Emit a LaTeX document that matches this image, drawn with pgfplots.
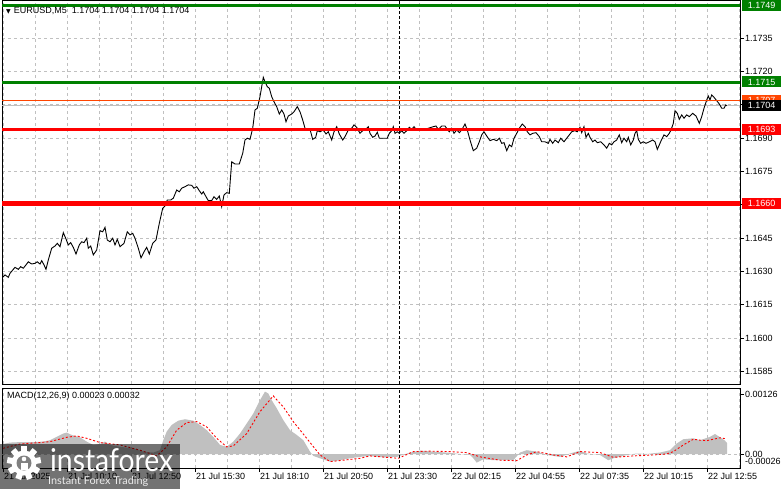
\documentclass[border=0pt]{standalone}
\usepackage{fontspec}
\setmainfont{Liberation Sans}
\newfontfamily\dejavu{DejaVu Sans}
\newfontfamily\logofont{Lato}
\usepackage{pgfplots}
\pgfplotsset{compat=1.18}
\definecolor{gridc}{RGB}{192,192,192}
\definecolor{mtgreen}{RGB}{0,128,0}
\definecolor{mtorange}{RGB}{255,69,0}
\definecolor{silverc}{RGB}{192,192,192}
\newcommand{\lbl}{\fontsize{9}{10}\selectfont}

\begin{document}
\begin{tikzpicture}
\fill[white] (0pt,0pt) rectangle (781pt,-489pt);
\path[use as bounding box] (0pt,0pt) rectangle (781pt,-489pt);

% ---------------- main price panel ----------------
\begin{axis}[
  at={(2pt,-384pt)}, anchor=south west,
  scale only axis, width=738pt, height=384pt,
  xmin=2, xmax=740, ymin=1.15793, ymax=1.17521,
  axis line style={black, line width=0.9pt},
  xtick={3,35,...,739}, xticklabels={}, x tick style={draw=none},
  xmajorgrids, ymajorgrids,
  grid style={gridc, line width=0.8pt, dash pattern=on 3pt off 3pt},
  ytick={1.1585,1.1600,1.1615,1.1630,1.1645,1.1660,1.1675,1.1690,1.1705,1.1720,1.1735},
  yticklabels={1.1585,1.1600,1.1615,1.1630,1.1645,{},1.1675,1.1690,{},1.1720,1.1735},
  ytick pos=right, yticklabel pos=right, tick align=outside, major tick length=4pt,
  y tick style={black, line width=0.8pt},
  yticklabel style={font=\lbl, anchor=west, inner sep=1pt},
  scaled y ticks=false,
]
% bid line
\addplot[silverc, line width=0.9pt] coordinates {(2,1.17045) (740,1.17045)};
% day separator
\addplot[black, line width=0.8pt, dash pattern=on 3pt off 2pt] coordinates {(399,1.15793) (399,1.17521)};
% price
\addplot[black, line width=0.9pt] coordinates {
(2.7,1.16273)(5,1.16284)(8.3,1.16273)(10,1.16291)(15,1.16318)(18.3,1.16309)(20.7,1.16321)(23.3,1.16314)(26,1.16329)(28.3,1.16343)(31.7,1.16333)(35,1.16336)(37.3,1.16343)(40,1.16333)(41.7,1.16348)(44,1.16329)(46,1.16309)(48.3,1.16351)(51.7,1.16404)(55,1.16414)(57.3,1.16426)(60,1.16411)(63.3,1.16474)(65.7,1.16449)(68.3,1.16419)(70.7,1.16429)(73.3,1.16408)(76,1.16378)(79.3,1.16419)(81.7,1.16433)(84,1.16429)(86.7,1.16449)(88.3,1.16404)(90.7,1.16414)(93.3,1.16374)(96.7,1.16396)(100,1.16483)(102.7,1.16478)(105,1.16498)(107.3,1.16441)(110,1.16433)(112.7,1.16449)(115,1.16419)(117.3,1.16444)(120,1.16411)(124,1.16426)(127.3,1.16478)(130,1.16464)(132.7,1.16471)(135,1.16449)(138.3,1.16404)(141,1.16361)(144,1.16388)(146.7,1.16408)(149.3,1.16378)(152.7,1.16426)(156,1.16441)(159.3,1.16516)(162.7,1.16584)(165,1.16594)(167.3,1.16621)(170.7,1.16621)(173.3,1.16629)(176.7,1.16666)(179.3,1.16658)(181.7,1.16674)(185,1.16681)(188.3,1.16689)(191.7,1.16687)(194,1.16674)(196.7,1.16681)(199.3,1.16663)(201.7,1.16648)(203.3,1.16658)(206,1.16636)(208.3,1.16618)(211.7,1.16618)(214,1.16636)(216.7,1.16624)(219.3,1.16639)(221.7,1.16591)(224,1.16644)(226.7,1.16654)(229.3,1.16651)(231.7,1.16793)(235,1.16783)(239.3,1.16783)(242.7,1.16831)(245,1.16891)(247.3,1.16899)(250,1.16894)(252.7,1.16944)(255,1.17026)(257.3,1.17034)(260,1.17086)(261.7,1.17131)(263.3,1.17173)(265,1.17153)(267.3,1.17131)(269.3,1.17124)(271.7,1.17086)(274,1.17063)(276.7,1.17041)(279.3,1.17008)(281.7,1.17026)(284,1.17008)(286,1.16973)(288.3,1.16999)(291.7,1.17008)(294,1.17018)(297.3,1.17041)(300,1.17018)(302.7,1.16981)(305,1.16944)(307.3,1.16936)(310,1.16939)(312.7,1.16894)(315.7,1.16903)(317.3,1.16933)(320,1.16928)(323.3,1.16936)(326,1.16918)(328.3,1.16928)(331.7,1.16891)(334,1.16928)(336.7,1.16951)(339.3,1.16918)(342.7,1.16891)(345,1.16906)(348.3,1.16936)(351.7,1.16944)(354,1.16959)(356.7,1.16948)(360,1.16921)(362.7,1.16933)(365,1.16936)(368.3,1.16951)(370,1.16921)(372.7,1.16903)(375,1.16909)(377.3,1.16926)(379.3,1.16899)(383.3,1.16899)(387.3,1.16899)(389.3,1.16921)(391.7,1.16932)(393.3,1.16951)(395,1.16921)(397.3,1.16928)(399.3,1.16921)(401.7,1.16933)(404,1.16921)(406.7,1.16933)(409.3,1.16948)(411.7,1.16939)(414,1.16951)(416,1.16939)(425,1.16939)(433.3,1.16951)(436,1.16954)(438.3,1.16939)(441.7,1.16954)(445,1.16954)(447.3,1.16939)(449.3,1.16928)(451.7,1.16944)(454,1.16921)(456.7,1.16936)(459.3,1.16924)(461.7,1.16936)(465,1.16963)(467.3,1.16936)(470,1.16891)(473.3,1.16843)(476.7,1.16854)(479.3,1.16883)(481.7,1.16914)(484,1.16928)(486.7,1.16909)(490,1.16888)(493.3,1.16894)(496.7,1.16888)(499.3,1.16899)(501.7,1.16876)(504,1.16879)(506.7,1.16843)(509.3,1.16869)(511.7,1.16861)(514,1.16899)(516.7,1.16921)(519.3,1.16944)(522.3,1.16963)(525,1.16951)(527.3,1.16928)(530,1.16914)(532.7,1.16921)(536,1.16924)(539.3,1.16906)(541.7,1.16883)(545,1.16883)(548.3,1.16876)(550,1.16894)(552.7,1.16876)(555,1.16891)(558.3,1.16879)(560.7,1.16899)(564,1.16883)(566.7,1.16899)(569.3,1.16914)(571.7,1.16928)(575,1.16933)(577.3,1.16928)(580,1.16948)(581.7,1.16924)(584,1.16951)(586,1.16903)(588.3,1.16921)(590,1.16903)(592.7,1.16883)(595,1.16891)(597.3,1.16879)(600.7,1.16883)(604,1.16869)(606.7,1.16854)(609.3,1.16876)(611.7,1.16869)(614,1.16883)(616.7,1.16891)(619.3,1.16914)(621.7,1.16879)(624,1.16899)(626.7,1.16883)(628.3,1.16903)(630.7,1.16869)(633.3,1.16891)(635,1.16921)(636.7,1.16933)(638.3,1.16894)(640.7,1.16876)(643.3,1.16883)(646,1.16876)(649.3,1.16883)(652.7,1.16891)(655,1.16883)(657.3,1.16849)(659.3,1.16869)(661.7,1.16894)(664,1.16914)(666.7,1.16906)(669.3,1.16921)(671,1.16936)(673.3,1.16966)(675,1.17023)(677.3,1.17011)(679.3,1.16984)(681.7,1.17004)(684,1.16989)(686.7,1.17004)(689.3,1.16996)(692.7,1.17011)(696,1.16999)(699.3,1.16966)(701.7,1.16996)(704,1.17034)(706.7,1.17071)(708.3,1.17089)(710,1.17071)(711.7,1.17094)(714,1.17083)(716.7,1.17068)(719.3,1.17053)(721.7,1.17034)(724,1.17034)(725.7,1.17049)(726.7,1.17045)
};
% level lines
\addplot[mtorange, line width=0.9pt] coordinates {(2,1.17070) (740,1.17070)};
\addplot[mtgreen, line width=3pt] coordinates {(2,1.17498) (740,1.17498)};
\addplot[mtgreen, line width=3pt] coordinates {(2,1.17152) (740,1.17152)};
\addplot[red, line width=3pt] coordinates {(2,1.16938) (740,1.16938)};
\addplot[red, line width=4.5pt] coordinates {(2,1.16605) (740,1.16605)};
\coordinate (c1749) at (axis cs:740,1.17498);
\coordinate (c1715) at (axis cs:740,1.17152);
\coordinate (c1707) at (axis cs:740,1.17070);
\coordinate (c1704) at (axis cs:740,1.17045);
\coordinate (c1693) at (axis cs:740,1.16938);
\coordinate (c1660) at (axis cs:740,1.16605);
\end{axis}

% ---------------- MACD panel ----------------
\begin{axis}[
  at={(2pt,-468pt)}, anchor=south west,
  scale only axis, width=738pt, height=80pt,
  xmin=2, xmax=740, ymin=-0.000294, ymax=0.001386,
  axis line style={black, line width=0.9pt},
  xtick={3,67,131,195,259,323,387,451,515,579,643,707},
  xticklabels={21 Jul 2025,21 Jul 10:10,21 Jul 12:50,21 Jul 15:30,21 Jul 18:10,21 Jul 20:50,21 Jul 23:30,22 Jul 02:15,22 Jul 04:55,22 Jul 07:35,22 Jul 10:15,22 Jul 12:55},
  minor xtick={35,99,163,227,291,355,419,483,547,611,675,739},
  xmajorgrids, xminorgrids, minor tick length=0pt,
  grid style={gridc, line width=0.8pt, dash pattern=on 3pt off 3pt},
  xtick pos=left, ytick pos=right, yticklabel pos=right,
  tick align=outside, major tick length=4pt,
  x tick style={black, line width=0.8pt}, y tick style={black, line width=0.8pt},
  xticklabel style={font=\lbl, anchor=north west, inner sep=1pt},
  ytick={0,0.00126}, yticklabels={0.00,0.00126},
  yticklabel style={font=\lbl, anchor=west, inner sep=1pt},
  scaled y ticks=false, scaled x ticks=false,
]
\addplot[gridc, line width=0.8pt, dash pattern=on 3pt off 3pt] coordinates {(2,0) (740,0)};
\addplot[fill=silverc, draw=none] coordinates {
(3,0.00021)(10,0.00024)(20,0.00025)(33,0.00025)(43,0.00026)(50,0.00029)(56.7,0.00036)(63.3,0.00043)(66.7,0.00045)(71.7,0.00040)(80,0.00035)(86.7,0.00026)(93.3,0.00019)(100,0.00021)(105,0.00026)(110,0.00019)(120,0.00015)(133.3,0.00012)(143.3,0.00005)(153.3,0.00003)(160,0.00008)(163.3,0.00029)(166.7,0.00047)(171.7,0.00061)(178.3,0.00070)(185,0.00073)(193.3,0.00070)(200,0.00061)(206.7,0.00050)(213.3,0.00036)(220,0.00019)(226.7,0.00015)(233.3,0.00026)(240,0.00043)(246.7,0.00064)(253.3,0.00085)(260,0.00113)(265,0.00131)(268.3,0.00127)(271.7,0.00113)(276.7,0.00096)(283.3,0.00071)(290,0.00050)(296.7,0.00040)(303.3,0.00029)(310,0.00005)(313.3,-0.00004)(320,-0.00009)(330,-0.00016)(340,-0.00013)(350,-0.00009)(360,-0.00006)(370,-0.00004)(383.3,-0.00007)(396.7,-0.00006)(410,0.00003)(420,0.00007)(433.3,0.00005)(446.7,0.00003)(460,0)(470,-0.00002)(473.3,-0.00009)(476.7,-0.00018)(483.3,-0.00011)(493.3,-0.00013)(506.7,-0.00013)(513.3,-0.00013)(520,0.00003)(526.7,0.00008)(536.7,0.00005)(546.7,-0.00002)(560,-0.00006)(570,0.00001)(580,0.00007)(586.7,0.00001)(600,-0.00002)(608.3,-0.00013)(613.3,-0.00009)(626.7,-0.00002)(636.7,0.00001)(646.7,0)(660,0.00003)(670,0.00008)(676.7,0.00022)(683.3,0.00031)(693.3,0.00033)(700,0.00029)(710,0.00036)(715,0.00042)(721.7,0.00033)(725,0.00028)(727,0.00023)
} \closedcycle;
\addplot[red, line width=0.9pt, dash pattern=on 2pt off 2pt] coordinates {
(3,0.00012)(20,0.00021)(40,0.00024)(50,0.00026)(66.7,0.00035)(76.7,0.00038)(86.7,0.00033)(100,0.00024)(120,0.00019)(140,0.00008)(156.7,-0.00004)(166.7,0.00015)(176.7,0.00050)(186.7,0.00066)(196.7,0.00068)(206.7,0.00057)(216.7,0.00033)(226.7,0.00015)(233.3,0.00017)(246.7,0.00043)(260,0.00089)(273.3,0.00122)(283.3,0.00099)(293.3,0.00068)(306.7,0.00033)(320,-0.00002)(330,-0.00016)(343.3,-0.00013)(360,-0.00009)(370,-0.00004)(386.7,-0.00007)(398.3,-0.00009)(413.3,0.00005)(430,0.00006)(450,0.00005)(466.7,0.00003)(480,-0.00006)(500,-0.00013)(516.7,-0.00014)(526.7,-0.00002)(536.7,0.00005)(553.3,-0.00002)(566.7,-0.00006)(580,0.00005)(600,0.00003)(613.3,-0.00007)(633.3,-0.00004)(653.3,-0.00002)(666.7,0)(673.3,0.00005)(683.3,0.00019)(693.3,0.00031)(700,0.00029)(706.7,0.00028)(713.3,0.00031)(720,0.00034)(726,0.00032)
};
\addplot[black, line width=0.8pt, dash pattern=on 3pt off 2pt] coordinates {(399,-0.000294) (399,0.001386)};
\end{axis}

% ---------------- price label boxes ----------------
\tikzset{pbox/.style={font=\lbl, anchor=west, minimum width=39pt, minimum height=11pt, inner sep=0pt}}
\node[pbox, fill=mtgreen, text=white] at ([xshift=2pt]c1749) {1.1749};
\node[pbox, fill=mtgreen, text=white] at ([xshift=2pt]c1715) {1.1715};
\node[pbox, fill=mtorange, text=white] at ([xshift=2pt]c1707) {1.1707};
\node[pbox, fill=black, text=white] at ([xshift=2pt]c1704) {1.1704};
\node[pbox, fill=red, text=white] at ([xshift=2pt]c1693) {1.1693};
\node[pbox, fill=red, text=white] at ([xshift=2pt]c1660) {1.1660};

% titles
\node[anchor=west, font=\lbl, inner sep=0pt] at (6pt,-11pt) {{\dejavu\fontsize{6}{7}\selectfont ▼}\hspace{3pt}EURUSD,M5\hspace{5pt}1.1704 1.1704 1.1704 1.1704};
\node[anchor=west, font=\lbl, inner sep=0pt] at (7pt,-396pt) {MACD(12,26,9) 0.00023 0.00032};
\node[anchor=west, font=\lbl, inner sep=0pt] at (745pt,-461pt) {-0.00026};

% watermark logo
\fill[black, fill opacity=0.55] (0pt,-444pt) rectangle (180pt,-489pt);
\fill[white] (24pt,-463pt) circle (12.5pt);
\foreach \a in {0,40,...,320} \fill[white, rotate around={\a:(24pt,-463pt)}] (21pt,-446pt) rectangle (27pt,-452pt);
\fill[black!50] (24pt,-463pt) circle (7.5pt);
\fill[white] (24pt,-459pt) circle (2.3pt);
\fill[white] (20.5pt,-470pt) rectangle (27.5pt,-462.5pt);
\node[anchor=south west, inner sep=0pt, text=white] at (50pt,-471.5pt) {\resizebox{123pt}{23pt}{\logofont instaforex}};
\node[anchor=north west, inner sep=0pt, text=white!85!gray] at (48pt,-476pt) {\resizebox{100pt}{!}{\logofont Instant Forex Trading}};
\end{tikzpicture}
\end{document}
